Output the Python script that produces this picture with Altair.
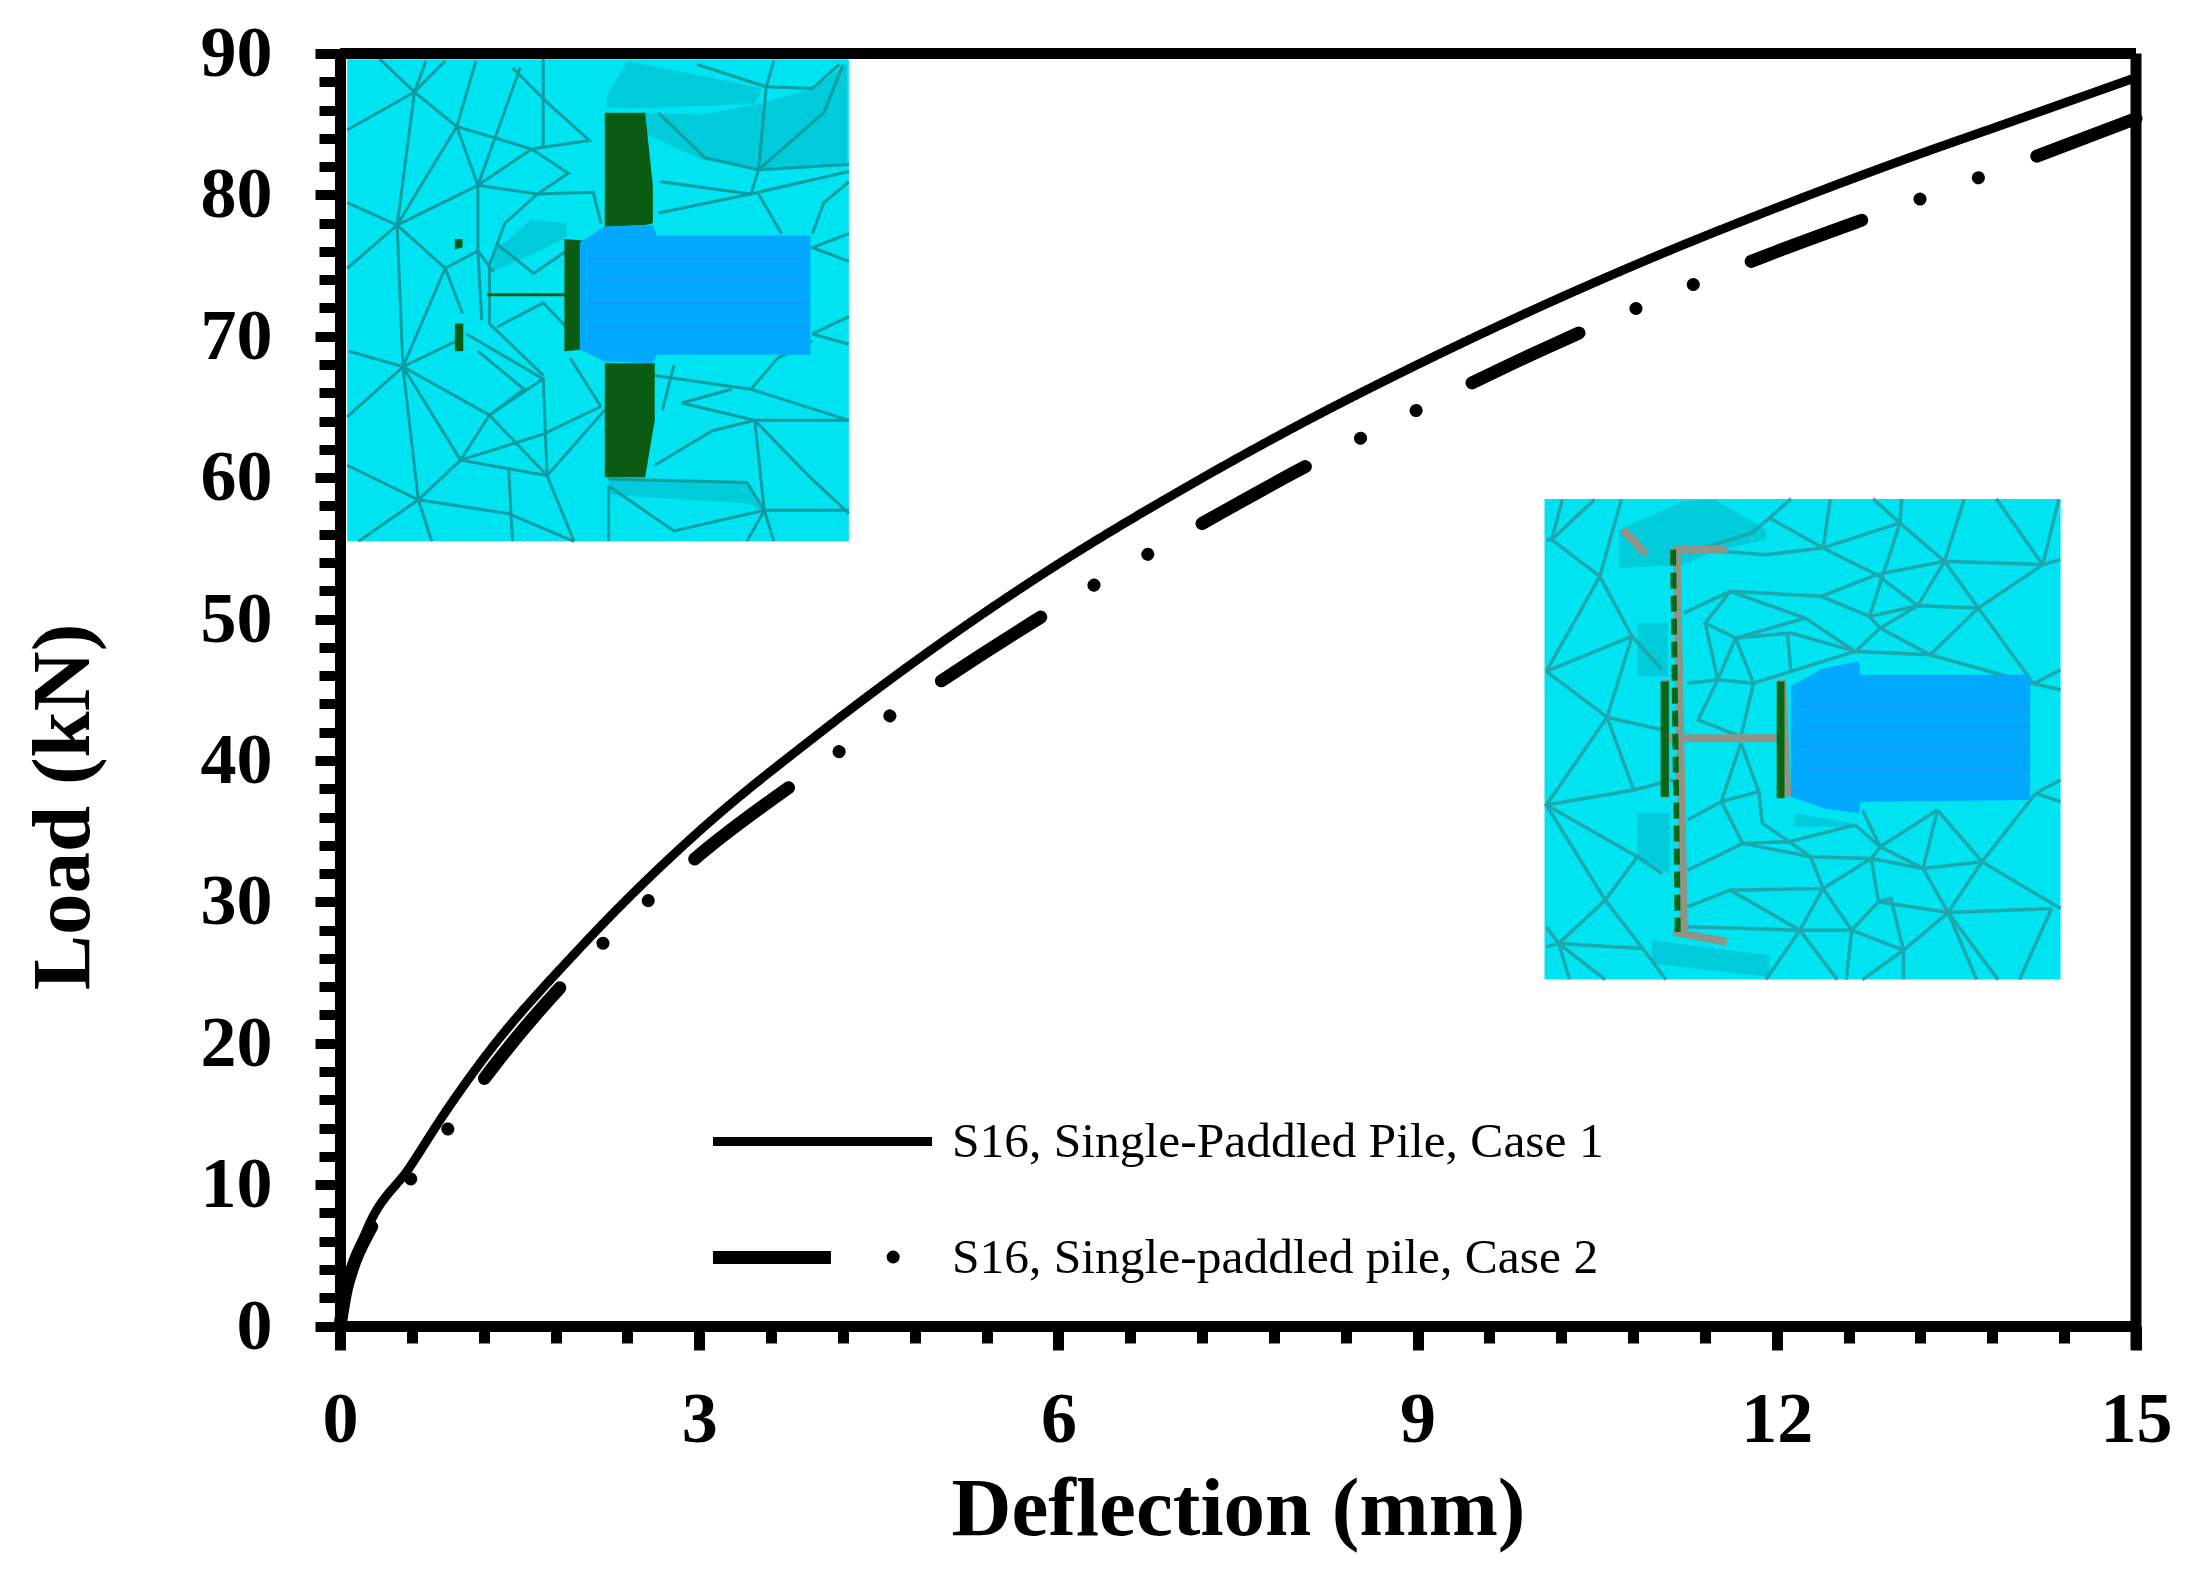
import altair as alt
import pandas as pd

# ---------- curves ----------
case1_name = "S16, Single-Paddled Pile, Case 1"
case2_name = "S16, Single-paddled pile, Case 2"
case1_x = [0, .05, .1, .234, .58, .87, 1.18, 2, 3, 4, 5, 6, 7, 8, 9, 10, 11, 12, 13, 14, 15]
case1_y = [0, 2.5, 4, 7, 11.2, 15, 18.7, 26.7, 35, 41.9, 48.2, 53.9, 59, 63.7, 68, 72, 75.7, 79.1, 82.3, 85.3, 88.3]
case2_x = [0, .05, .1, .25, .6, .95, 1.25, 2, 2.5, 3, 4, 5, 6, 7, 8, 9, 10, 11, 12, 13, 14, 15]
case2_y = [0, 2.5, 4, 6.8, 10.5, 14.5, 18, 25.4, 29.5, 33.3, 39.6, 45.5, 50.9, 55.8, 60.5, 64.8, 68.9, 72.6, 76, 79.1, 82.2, 85.4]
legend_dot_x = [4.62]
legend_dot_y = [4.88]

x_ticks = [0, .6, 1.2, 1.8, 2.4, 3, 3.6, 4.2, 4.8, 5.4, 6, 6.6, 7.2, 7.8, 8.4, 9, 9.6, 10.2, 10.8, 11.4, 12, 12.6, 13.2, 13.8, 14.4, 15]
y_ticks = list(range(0, 92, 2))

# ---------- inset pictures, in each inset's own picture units ----------
inset1_box = dict(x0=0.06, x1=4.25, y0=55.5, y1=89.6, u0=130, u1=1435, v0=85, v1=1480)
inset2_box = dict(x0=10.06, x1=14.37, y0=24.5, y1=58.5, u0=70, u1=1515, v0=58, v1=1498)

inset1_mesh = [
    [(215, 85), (305, 180), (130, 290)], [(335, 90), (305, 180), (415, 280), (465, 90)], [(385, 90), (305, 180)],
    [(305, 180), (260, 565), (130, 690)], [(130, 500), (260, 565), (470, 450), (580, 110)], [(415, 280), (260, 565)],
    [(415, 280), (470, 450), (625, 475), (705, 415), (610, 345), (415, 280)], [(470, 450), (610, 345), (760, 320), (650, 210), (560, 110)],
    [(260, 565), (385, 690), (275, 975), (130, 1120)], [(135, 930), (275, 975), (415, 900)], [(260, 565), (275, 975)],
    [(385, 690), (470, 640), (510, 700)], [(385, 690), (430, 820)], [(275, 975), (500, 1115), (425, 1245), (275, 975)],
    [(275, 975), (315, 1360), (130, 1260)], [(315, 1360), (160, 1480)], [(315, 1360), (350, 1480)], [(315, 1360), (425, 1245), (550, 1270), (560, 1480)],
    [(315, 1360), (550, 1400), (720, 1480)], [(500, 1115), (640, 1010), (440, 880)], [(500, 1115), (590, 1040), (470, 930)], [(425, 1245), (640, 1170), (790, 1090)],
    [(500, 1115), (650, 1290), (800, 1100)], [(550, 1270), (650, 1290), (720, 1480)], [(640, 1010), (650, 1290)],
    [(470, 450), (470, 640), (480, 840)], [(625, 475), (540, 560), (500, 680), (500, 850), (640, 1000)], [(625, 475), (770, 470), (790, 560)],
    [(520, 620), (615, 705), (700, 640)], [(520, 860), (640, 790), (700, 860)], [(640, 80), (640, 340)], [(710, 950), (790, 1090)],
    [(940, 240), (1060, 370), (1200, 405), (1435, 390)], [(945, 440), (1180, 475), (1435, 410)], [(940, 530), (1180, 475), (1200, 405)],
    [(1200, 475), (1260, 590)], [(1435, 590), (1340, 630), (1435, 670)], [(1220, 165), (1040, 100)], [(1220, 165), (1240, 90)],
    [(1220, 165), (1340, 170), (1410, 100)], [(1200, 405), (1220, 165)], [(1200, 405), (1370, 240), (1420, 100)], [(1340, 590), (1370, 500), (1435, 440)],
    [(1340, 880), (1435, 830)], [(1340, 880), (1435, 910)], [(1250, 950), (1180, 1040)], [(930, 1000), (1180, 1040), (1435, 1130)],
    [(1000, 1080), (1190, 1130), (1435, 1130)], [(1190, 1130), (1330, 1290), (1435, 1400)], [(1190, 1130), (1215, 1390)],
    [(930, 1260), (1080, 1160), (1190, 1130)], [(1000, 1080), (1130, 1040)], [(1215, 1390), (1170, 1310), (810, 1300)],
    [(1215, 1390), (980, 1450), (810, 1320)], [(1215, 1390), (1435, 1390)], [(1240, 1480), (1215, 1390), (1170, 1480)], [(810, 1320), (810, 1480)],
    [(980, 970), (950, 1100)], [(1340, 900), (1250, 950)],
]
inset1_shade = [
    [(805, 190, 225), (860, 90, 228), (1190, 165, 215), (1205, 170, 185)],
    [(905, 240, 300), (1050, 245, 375), (1200, 215, 405), (1340, 170, 395), (1430, 100, 390)],
    [(810, 1300, 1345), (1170, 1310, 1370), (1210, 1385, 1390)],
    [(510, 640, 700), (610, 550, 650), (700, 560, 600)],
]
inset1_green = [
    [(800, 240, 570), (905, 240, 565), (925, 450, 560)],
    [(800, 965, 1295), (905, 965, 1295), (930, 965, 1130)],
    [(695, 605, 930), (745, 610, 925)],
    [(410, 850, 930), (432, 850, 930)],
    [(410, 605, 635), (430, 605, 630)],
]
inset1_green_lines = [[(495, 767), (700, 767)]]
inset1_blue = [[(735, 615, 925), (800, 570, 960), (925, 565, 965), (935, 595, 940), (1335, 595, 940)]]
inset1_stripes = [[(760, 665), (1330, 665)], [(760, 725), (1330, 725)], [(760, 790), (1330, 790)], [(760, 860), (1330, 860)]]

inset2_mesh = [
    [(90, 180), (225, 290), (315, 470), (75, 575)], [(90, 180), (120, 60)], [(90, 180), (210, 60)], [(225, 290), (285, 60)], [(75, 180), (90, 180)],
    [(225, 290), (75, 575)], [(315, 470), (245, 712), (75, 575)], [(245, 712), (75, 975), (330, 1130), (240, 1260), (75, 975)], [(245, 712), (400, 750)],
    [(75, 975), (320, 930), (430, 900)], [(315, 470), (400, 570)], [(330, 1130), (400, 1180)], [(240, 1260), (110, 1390), (75, 1400)], [(110, 1390), (140, 1498)],
    [(110, 1390), (240, 1498)], [(240, 1260), (345, 1405)], [(110, 1390), (345, 1405)], [(345, 1405), (410, 1498)], [(245, 712), (320, 930)],
    [(700, 115), (850, 205), (1065, 130), (1190, 245), (1465, 255), (1515, 240)], [(700, 115), (760, 58)], [(870, 60), (850, 205)], [(1065, 130), (990, 58)],
    [(1065, 130), (1070, 58)], [(1190, 245), (1245, 60)], [(1465, 255), (1335, 58)], [(1465, 255), (1510, 60)], [(700, 115), (650, 160), (470, 220)],
    [(850, 205), (690, 225), (500, 210)], [(850, 205), (1000, 285), (1115, 378)], [(1190, 245), (1115, 378)], [(1190, 245), (1285, 385), (1465, 255)],
    [(1285, 385), (1115, 378), (980, 410), (845, 350), (590, 335), (460, 400)], [(845, 350), (1000, 285), (1190, 245)], [(1065, 130), (980, 410), (1010, 445)],
    [(1285, 385), (1150, 525), (1010, 445), (1115, 378)], [(1285, 385), (1440, 612)], [(1150, 525), (1440, 612)], [(1150, 525), (940, 515)], [(1010, 445), (940, 515), (800, 415), (590, 335)],
    [(800, 415), (605, 475), (520, 430), (590, 335)], [(605, 475), (555, 600), (655, 610), (605, 475)], [(520, 430), (555, 600), (470, 610)], [(605, 475), (760, 460), (940, 515)],
    [(940, 515), (760, 575), (750, 460)], [(655, 610), (760, 575)], [(555, 600), (500, 720), (620, 770)], [(655, 610), (620, 770)], [(1440, 612), (1515, 630)], [(1440, 612), (1515, 570)],
    [(1445, 940), (1515, 900)], [(1445, 940), (1515, 965)], [(1445, 940), (1295, 1145), (1170, 990)], [(1170, 990), (1010, 1100), (940, 1035)], [(1170, 990), (1130, 1165)],
    [(960, 990), (1010, 1100), (985, 1135), (815, 1130), (755, 1085), (625, 1090), (540, 1135), (470, 1170)], [(940, 1035), (755, 1085), (680, 1030), (670, 935)],
    [(620, 790), (565, 965), (625, 1090)], [(620, 790), (670, 935), (565, 965), (470, 1020)], [(625, 1090), (815, 1130), (850, 1225)], [(985, 1135), (850, 1225), (590, 1230), (470, 1280)],
    [(985, 1135), (1130, 1165), (1295, 1145), (1515, 1285)], [(1130, 1165), (1200, 1297), (1295, 1145)], [(1010, 1100), (1130, 1165)], [(1200, 1297), (1490, 1285)], [(1200, 1297), (1075, 1410), (1040, 1255), (1005, 1265), (985, 1135)],
    [(1005, 1265), (930, 1350), (850, 1225)], [(1005, 1265), (1200, 1297)], [(930, 1350), (785, 1350), (590, 1230)], [(785, 1350), (850, 1225)], [(785, 1350), (890, 1498)], [(930, 1350), (915, 1498)],
    [(930, 1350), (1075, 1410), (1075, 1498)], [(1075, 1410), (960, 1498)], [(1200, 1297), (1280, 1498)], [(1200, 1297), (1340, 1498)], [(1490, 1285), (1400, 1498)], [(785, 1350), (690, 1498)],
    [(785, 1350), (470, 1340)], [(75, 1340), (110, 1390)],
]
inset2_shade = [
    [(280, 150, 265), (460, 65, 255), (545, 60, 215), (690, 150, 180)],
    [(370, 1380, 1450), (700, 1425, 1490)],
    [(330, 430, 590), (415, 430, 590)],
    [(330, 1000, 1130), (420, 1000, 1180)],
    [(770, 1000, 1040), (930, 1030, 1040)],
]
inset2_gray = [
    [(440, 205), (460, 1355)], [(410, 600), (410, 955)], [(735, 600), (750, 950)], [(420, 775), (720, 775)], [(445, 860), (450, 950)],
    [(430, 210), (580, 210)], [(430, 1355), (580, 1385)], [(290, 150), (355, 225)],
]
inset2_green_dash = [[(430, 210), (443, 1355)]]
inset2_green = [
    [(395, 605, 950), (418, 605, 950)],
    [(720, 605, 955), (742, 605, 955)],
]
inset2_blue = [[(760, 620, 950), (850, 565, 985), (950, 545, 1000), (955, 585, 965), (1430, 585, 960)]]
inset2_stripes = [[(790, 680), (1425, 680)], [(790, 740), (1425, 740)], [(790, 800), (1425, 800)], [(790, 865), (1425, 865)]]

# ---------- helpers turning picture units into the chart's data units ----------
def to_x(box, u):
    return box["x0"] + (u - box["u0"]) / (box["u1"] - box["u0"]) * (box["x1"] - box["x0"])

def to_y(box, v):
    return box["y1"] - (v - box["v0"]) / (box["v1"] - box["v0"]) * (box["y1"] - box["y0"])

def lines_df(box, polylines, tag):
    return pd.DataFrame([
        dict(id=f"{tag}{i}", ord=j, x=to_x(box, p[0]), y=to_y(box, p[1]))
        for i, line in enumerate(polylines) for j, p in enumerate(line)
    ])

def area_df(box, shapes, tag):
    return pd.DataFrame([
        dict(id=f"{tag}{i}", x=to_x(box, p[0]), top=to_y(box, p[1]), bottom=to_y(box, p[2]))
        for i, s in enumerate(shapes) for p in s
    ])

# ---------- main axes ----------
x_scale = alt.Scale(domain=[0, 15], nice=False, zero=False)
y_scale = alt.Scale(domain=[0, 90], nice=False, zero=False)

x_axis = alt.Axis(
    values=x_ticks, tickCount=100, format=".0f", grid=False, labelOverlap=False, labelFlush=False,
    labelExpr="abs(datum.value/3-round(datum.value/3))<0.001 ? datum.label : ''",
    tickSize=alt.ConditionalAxisNumber(
        condition={"test": "abs(datum.value/3-round(datum.value/3))<0.001", "value": 24}, value=17),
    tickWidth=11, tickColor="black", domainColor="black", domainWidth=11,
    labelFont="Liberation Serif", labelFontWeight="bold", labelFontSize=72, labelColor="black", labelPadding=34,
    title="Deflection (mm)", titleFont="Liberation Serif", titleFontWeight="bold", titleFontSize=83, titleColor="black",
    titleY=183, titleBaseline="middle",
)
y_axis = alt.Axis(
    values=y_ticks, tickCount=100, format=".0f", grid=False, labelOverlap=False, labelFlush=False,
    labelExpr="datum.value % 10 === 0 ? datum.label : ''",
    tickSize=alt.ConditionalAxisNumber(condition={"test": "datum.value % 10 === 0", "value": 25}, value=21),
    tickWidth=10, tickColor="black", domainColor="black", domainWidth=11,
    labelFont="Liberation Serif", labelFontWeight="bold", labelFontSize=72, labelColor="black", labelPadding=43,
    labelBaseline="middle",
    title="Load (kN)", titleFont="Liberation Serif", titleFontWeight="bold", titleFontSize=83, titleColor="black",
    titleX=-277, titleY=753, titleBaseline="middle",
)

X = alt.X("x:Q", scale=x_scale, axis=x_axis)
Y = alt.Y("y:Q", scale=y_scale, axis=y_axis)

def areas(df, color):
    return alt.Chart(df).mark_area(color=color, interpolate="linear").encode(
        x=X, y=alt.Y("top:Q", scale=y_scale, axis=y_axis), y2=alt.Y2("bottom:Q"), detail="id:N")

def lines(df, color, width, dash=None):
    kw = dict(strokeDash=dash) if dash else {}
    return alt.Chart(df).mark_line(color=color, strokeWidth=width, interpolate="linear", **kw).encode(
        x=X, y=Y, detail="id:N", order="ord:Q")

box_df = pd.DataFrame([
    dict(x=b["x0"], x2=b["x1"], y=b["y0"], y2=b["y1"]) for b in (inset1_box, inset2_box)
])
boxes = alt.Chart(box_df).mark_rect(color="#00E4F2").encode(x=X, x2="x2:Q", y=Y, y2="y2:Q")

curve_df = pd.concat([
    pd.DataFrame({"Deflection": case1_x, "Load": case1_y, "Case": case1_name}),
    pd.DataFrame({"Deflection": case2_x, "Load": case2_y, "Case": case2_name}),
])
case_order = [case1_name, case2_name]

curves = alt.Chart(curve_df).mark_line(color="black", interpolate="monotone", strokeCap="round", strokeDashOffset=13).encode(
    x=alt.X("Deflection:Q", scale=x_scale, axis=x_axis),
    y=alt.Y("Load:Q", scale=y_scale, axis=y_axis),
    strokeDash=alt.StrokeDash(
        "Case:N", sort=case_order,
        scale=alt.Scale(domain=case_order, range=[[1, 0], [118, 62, 0.1, 62, 0.1, 62.3]]),
        legend=alt.Legend(
            title=None, orient="none", legendX=366, legendY=1030, symbolType="stroke", symbolSize=48000,
            symbolStrokeColor="black", clipHeight=116, rowPadding=0, labelOffset=13, labelLimit=0,
            labelFont="Liberation Serif", labelFontSize=49.5, labelColor="black",
        ),
    ),
    strokeWidth=alt.StrokeWidth(
        "Case:N", sort=case_order, scale=alt.Scale(domain=case_order, range=[9, 13]), legend=None,
    ),
)

legend_dot = alt.Chart(pd.DataFrame({"x": legend_dot_x, "y": legend_dot_y})).mark_circle(
    color="black", opacity=1, size=170).encode(x=X, y=Y)

frame_top = alt.Chart(pd.DataFrame({"y": [90], "x": [0], "x2": [15]})).mark_rule(color="black", strokeWidth=11).encode(
    x=X, x2="x2:Q", y=Y)
frame_right = alt.Chart(pd.DataFrame({"x": [15], "y": [90], "y2": [-1.7]})).mark_rule(color="black", strokeWidth=11, clip=False).encode(
    x=X, y=Y, y2="y2:Q")

SHADE = "#00CBDB"
MESH1 = "#0E9CA3"
MESH2 = "#1CA8AE"
GREEN = "#0B5C12"
GREEN2 = "#0A6614"
BLUE = "#03A9FF"
STRIPE = "#0A9DF2"
GRAY = "#8E9488"

chart = alt.layer(
    boxes,
    areas(area_df(inset1_box, inset1_shade, "s1"), SHADE),
    areas(area_df(inset2_box, inset2_shade, "s2"), SHADE),
    lines(lines_df(inset1_box, inset1_mesh, "m1"), MESH1, 3),
    lines(lines_df(inset2_box, inset2_mesh, "m2"), MESH2, 3.5),
    areas(area_df(inset1_box, inset1_green, "g1"), GREEN),
    lines(lines_df(inset1_box, inset1_green_lines, "gl1"), GREEN, 3),
    areas(area_df(inset1_box, inset1_blue, "b1"), BLUE),
    lines(lines_df(inset1_box, inset1_stripes, "st1"), STRIPE, 2),
    lines(lines_df(inset2_box, inset2_gray, "y2"), GRAY, 8),
    lines(lines_df(inset2_box, inset2_green_dash, "gd2"), GREEN2, 6, dash=[16, 7]),
    areas(area_df(inset2_box, inset2_green, "g2"), GREEN2),
    areas(area_df(inset2_box, inset2_blue, "b2"), BLUE),
    lines(lines_df(inset2_box, inset2_stripes, "st2"), STRIPE, 2),
    curves,
    legend_dot,
    frame_top,
    frame_right,
).properties(
    width=1796,
    height=1272.5,
    padding={"left": 332, "top": 45.5, "right": 41, "bottom": 230},
    autosize=alt.AutoSizeParams(type="none"),
    background="white",
).configure_view(stroke=None)

chart.save("out.html", embed_options={"renderer": "svg", "actions": False})
